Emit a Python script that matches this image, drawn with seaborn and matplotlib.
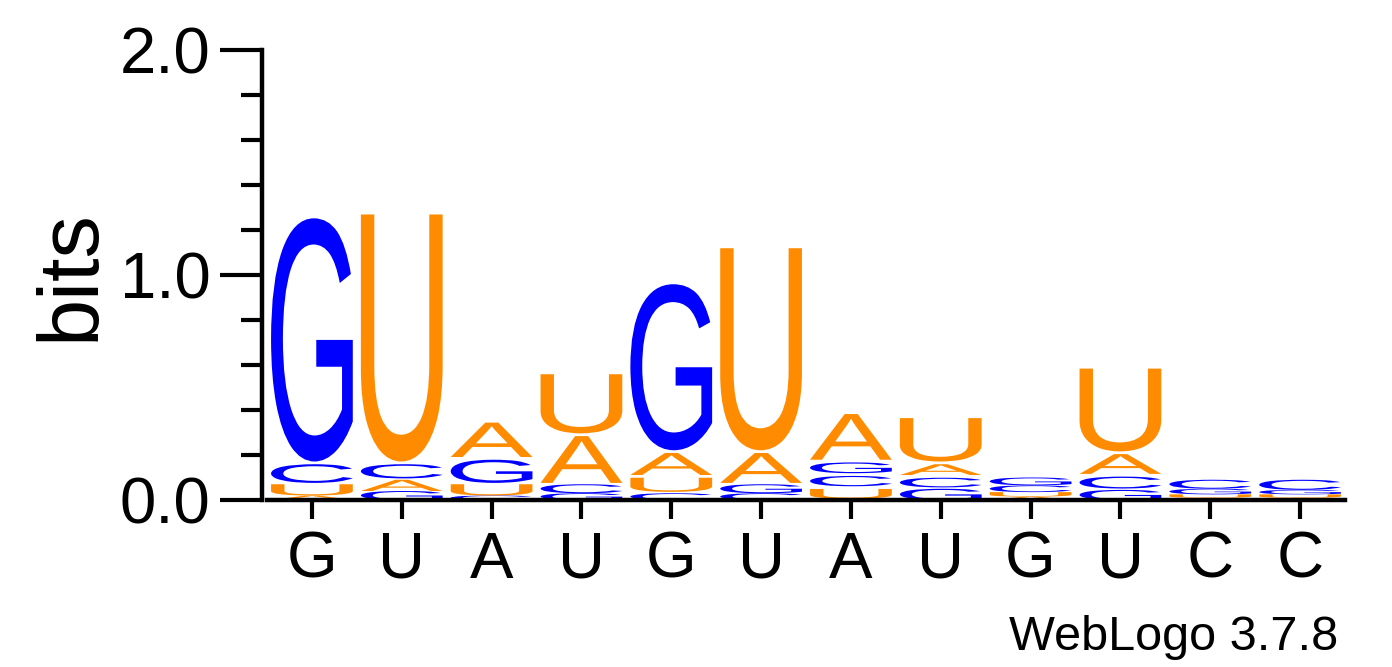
import numpy as np
import pandas as pd
import matplotlib
matplotlib.use('Agg')
import matplotlib.pyplot as plt
import matplotlib.transforms as mtransforms
from matplotlib.textpath import TextPath
from matplotlib.patches import PathPatch
from matplotlib.font_manager import FontProperties
from matplotlib.ticker import MultipleLocator
import seaborn as sns

# Sequence logo data (bits per base at each position)
positions = list(range(1, 13))
consensus = ['G', 'U', 'A', 'U', 'G', 'U', 'A', 'U', 'G', 'U', 'C', 'C']
bits_A = [0.02, 0.05, 0.165, 0.22, 0.11, 0.145, 0.215, 0.06, 0.015, 0.10, 0.01, 0.01]
bits_C = [0.095, 0.075, 0.02, 0.04, 0.03, 0.03, 0.058, 0.055, 0.03, 0.065, 0.04, 0.045]
bits_G = [1.093, 0.04, 0.115, 0.03, 0.75, 0.04, 0.06, 0.05, 0.035, 0.045, 0.025, 0.02]
bits_U = [0.05, 1.11, 0.05, 0.275, 0.075, 0.91, 0.055, 0.205, 0.02, 0.38, 0.015, 0.015]

base_colors = {'A': '#ff8c00', 'U': '#ff8c00', 'C': '#0000ff', 'G': '#0000ff'}

df = pd.DataFrame({'A': bits_A, 'C': bits_C, 'G': bits_G, 'U': bits_U}, index=positions)

sns.set_theme(style='ticks')
plt.rcParams['font.family'] = ['Liberation Sans', 'DejaVu Sans']
plt.rcParams['text.color'] = 'black'
plt.rcParams['axes.labelcolor'] = 'black'
plt.rcParams['xtick.color'] = 'black'
plt.rcParams['ytick.color'] = 'black'

glyph_font = FontProperties(family='Liberation Sans')


def draw_letter(ax, ch, x, y, w, h, color):
    tp = TextPath((0, 0), ch, size=1, prop=glyph_font)
    bb = tp.get_extents()
    pad = 0.006 if h > 0.05 else 0.0
    hh = h - 2 * pad
    t = (mtransforms.Affine2D()
         .translate(-bb.x0, -bb.y0)
         .scale(w / bb.width, hh / bb.height)
         .translate(x - w / 2, y + pad))
    ax.add_patch(PathPatch(t.transform_path(tp), fc=color, ec='none', lw=0))


fig = plt.figure(figsize=(13.92, 6.67), dpi=100)
ax = fig.add_axes([267 / 1392, 1 - 500 / 667, 1078 / 1392, 450 / 667])

for pos in positions:
    col = df.loc[pos].sort_values()
    bottom = 0.0
    for base, h in col.items():
        draw_letter(ax, base, pos, bottom, 0.91, h, base_colors[base])
        bottom += h

ax.set_xlim(0.5, 12.5)
ax.set_ylim(0, 2)
ax.set_xticks(positions)
ax.set_xticklabels(consensus)
ax.set_yticks([0, 1, 2])
ax.set_yticklabels(['0.0', '1.0', '2.0'])
ax.yaxis.set_minor_locator(MultipleLocator(0.2))

ax.spines['top'].set_visible(False)
ax.spines['right'].set_visible(False)
ax.spines['left'].set_position(('outward', 3.6))
for s in ['left', 'bottom']:
    ax.spines[s].set_linewidth(3.2)
    ax.spines[s].set_color('black')

ax.tick_params(axis='y', which='major', length=30, width=3, labelsize=47, pad=7,
               color='black', labelcolor='black')
ax.tick_params(axis='y', which='minor', length=15, width=3, color='black')
ax.tick_params(axis='x', which='major', length=14, width=3, labelsize=47, pad=8,
               color='black', labelcolor='black')
ax.tick_params(axis='x', which='minor', bottom=False)

ax.set_ylabel('bits', fontsize=61, color='black')
ax.yaxis.set_label_coords(-0.144, 0.5)

fig.text(1338 / 1392, 1 - 650 / 667, 'WebLogo 3.7.8', ha='right', va='baseline',
         fontsize=35, color='black')

fig.savefig('out.png', dpi=100, facecolor='white')
